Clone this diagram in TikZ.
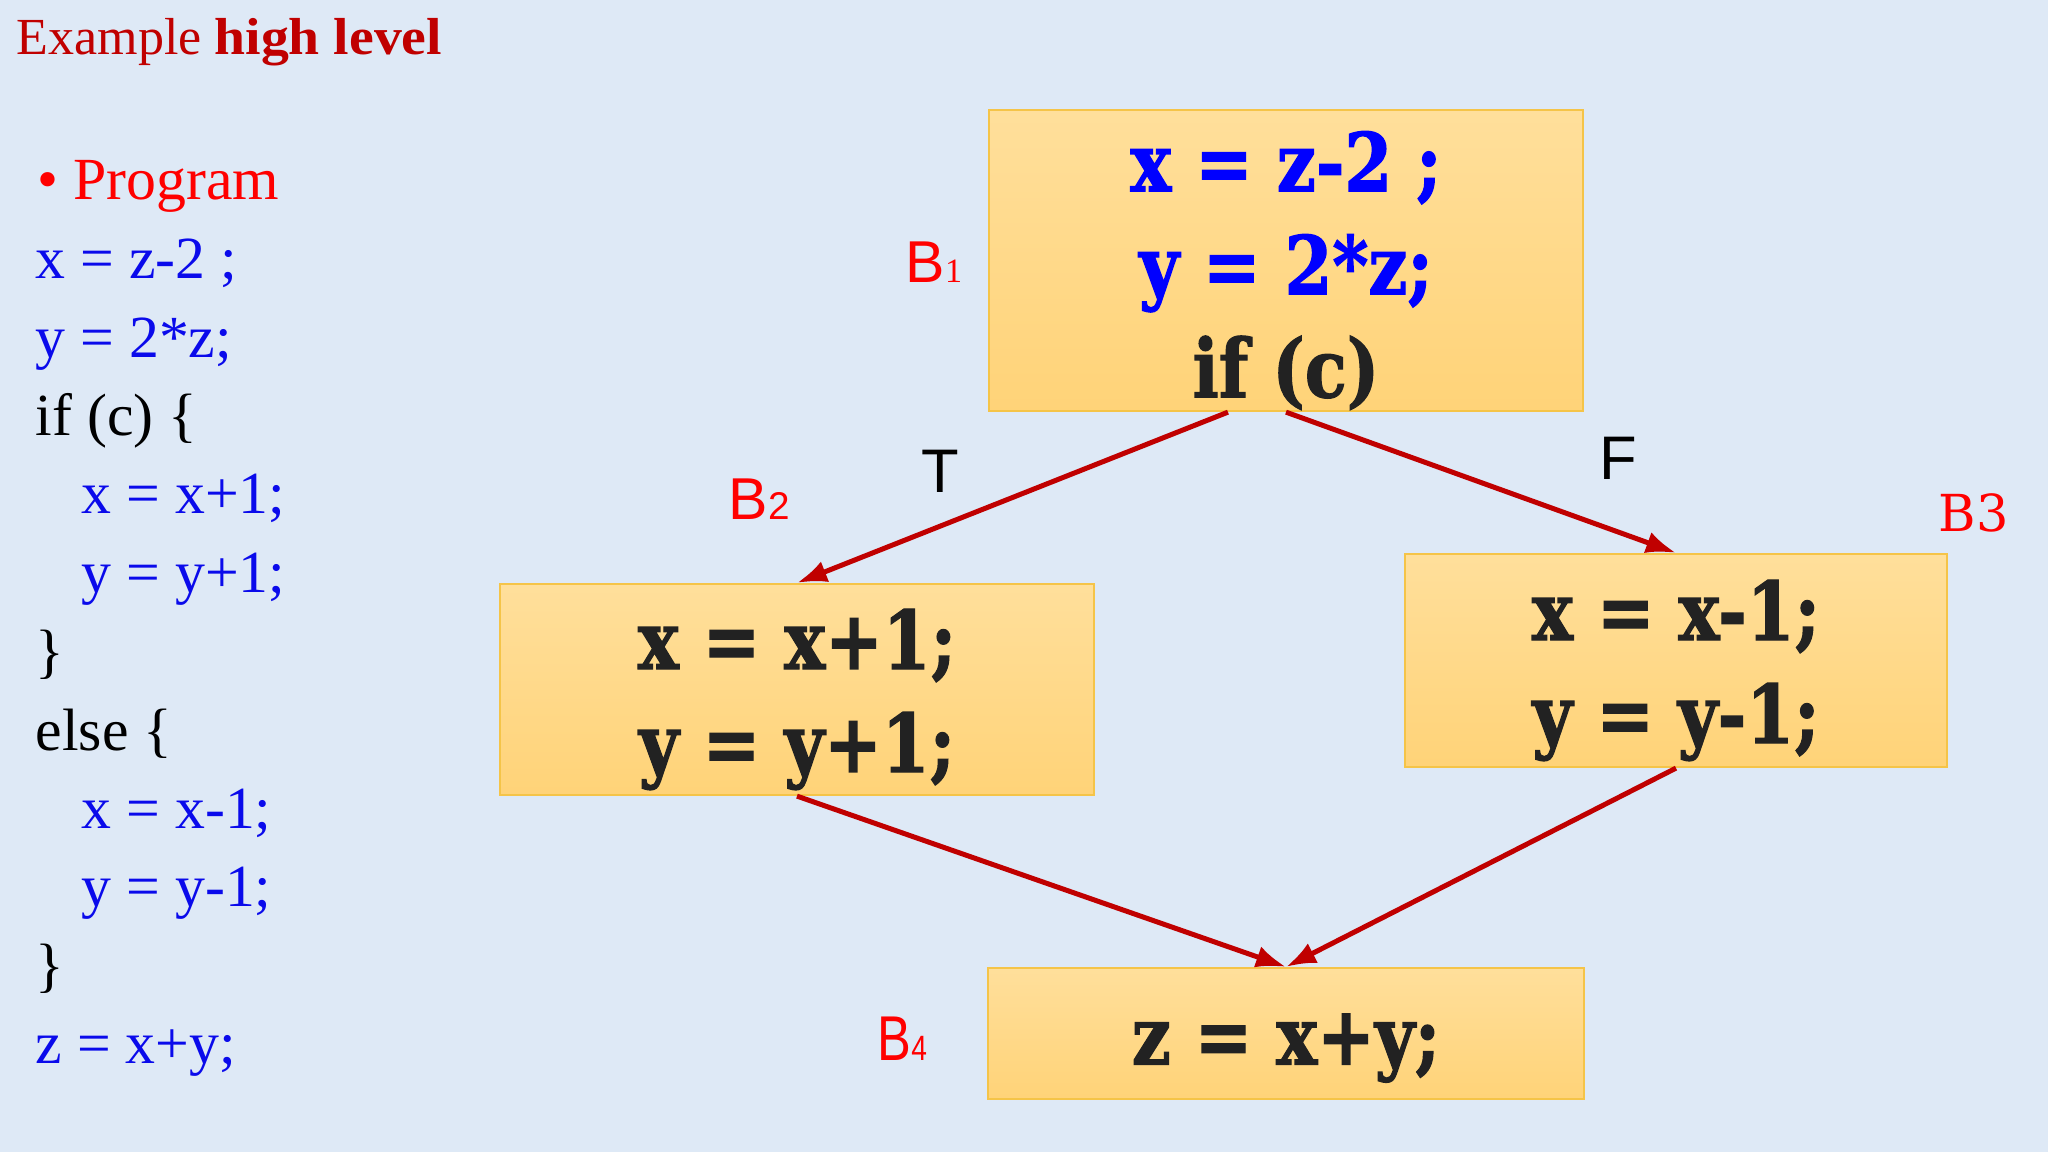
\documentclass[tikz,border=0pt]{standalone}
\usepackage{fontspec}
\setmainfont{Liberation Serif}
\newfontfamily\titlebold[FakeStretch=1.07]{Liberation Serif}
\newfontfamily\labelfont{Liberation Sans}
\newfontfamily\narrowfont[FakeStretch=0.8]{Liberation Sans}
\newfontfamily\slabfont{DejaVu Serif}
\newfontfamily\boxfont[FakeStretch=0.85,FakeBold=1.5]{DejaVu Serif}
\usepackage{tikz}
\usetikzlibrary{arrows.meta,positioning}
\definecolor{slidebg}{RGB}{222,233,246}
\definecolor{boxtop}{RGB}{255,223,155}
\definecolor{boxbottom}{RGB}{255,211,120}
\definecolor{boxline}{RGB}{245,196,72}
\definecolor{flowred}{RGB}{192,0,0}
\definecolor{titlered}{RGB}{192,0,0}
\definecolor{codeblue}{RGB}{10,10,235}
\definecolor{boxblue}{RGB}{0,0,255}
\definecolor{boxblack}{RGB}{34,34,34}
\newcommand{\blocklift}{\rule{0pt}{0.8cm}}
\tikzset{
    block/.style={rectangle, draw=boxline, line width=0.6pt, top color=boxtop, bottom color=boxbottom, align=center, inner sep=0pt, text=boxblack, font=\boxfont\bfseries\fontsize{23}{29.3}\selectfont},
    code line/.style={anchor=base west, inner sep=0pt, text=codeblue, font=\fontsize{17}{20}\selectfont},
    code key/.style={code line, text=black},
    block name/.style={anchor=base west, inner sep=0pt, text=red},
    branch/.style={anchor=base west, inner sep=0pt, font=\labelfont\fontsize{17.5}{20}\selectfont},
    flow/.style={-{Latex[length=0.3cm,width=0.22cm]}, draw=flowred, line width=0.05cm}
}

\begin{document}
\begin{tikzpicture}[x=0.01cm, y=-0.01cm]
    \fill[slidebg] (0,0) rectangle (2048,1152);
    \useasboundingbox (0,0) rectangle (2048,1152);

    \node[anchor=base west, inner sep=0pt, text=titlered, font=\fontsize{14.8}{18}\selectfont] (title) at (16,55) {Example {\titlebold\bfseries high level}};
    \node[anchor=base west, inner sep=0pt, text=red, font=\fontsize{17}{20}\selectfont] (prog) at (37,200) {\textbullet\ Program};

    \node[code line] (c1) at (35,279) {x = z-2 ;};
    \node[code line] (c2) at (35,358) {y = 2*z;};
    \node[code key] (c3) at (35,436) {if (c) \{};
    \node[code line] (c4) at (81,514) {x = x+1;};
    \node[code line] (c5) at (81,593) {y = y+1;};
    \node[code key] (c6) at (35,671) {\}};
    \node[code key] (c7) at (35,750) {else \{};
    \node[code line] (c8) at (81,828) {x = x-1;};
    \node[code line] (c9) at (81,906) {y = y-1;};
    \node[code key] (c10) at (35,985) {\}};
    \node[code line] (c11) at (35,1063) {z = x+y;};

    \node[block, minimum width=5.94cm, minimum height=3.01cm] (b1) at (1286,260.5)
        {\blocklift\textcolor{boxblue}{x = z-2 ;}\\\textcolor{boxblue}{y = 2*z;}\\if (c)};
    \node[block, minimum width=5.94cm, minimum height=2.11cm] (b2) at (797,689.5)
        {\blocklift x = x+1;\\y = y+1;};
    \node[block, minimum width=5.42cm, minimum height=2.13cm] (b3) at (1676,660.5)
        {\blocklift x = x-1;\\y = y-1;};
    \node[block, minimum width=5.95cm, minimum height=1.31cm] (b4) at (1286,1033.5)
        {\blocklift z = x+y;};

    \node[block name, font=\labelfont\fontsize{16.8}{20}\selectfont] (n1) at (905,283) {B{\rmfamily\fontsize{9.7}{11}\selectfont 1}};
    \node[block name, font=\labelfont\fontsize{16.8}{20}\selectfont] (n2) at (728,520) {B{\fontsize{11}{13}\selectfont 2}};
    \node[block name, font=\slabfont\fontsize{14.5}{17}\selectfont] (n3) at (1938,532) {B3};
    \node[block name, font=\narrowfont\fontsize{18}{20}\selectfont] (n4) at (877,1060) {B{\fontsize{10}{11}\selectfont 4}};

    \node[branch] (t) at (921,492) {T};
    \node[branch] (f) at (1599,480) {F};

    \draw[flow] ([xshift=-0.58cm]b1.south) -- (b2.north);
    \draw[flow] (b1.south) -- (b3.north);
    \draw[flow] (b2.south) -- (b4.north);
    \draw[flow] (b3.south) -- (b4.north);
\end{tikzpicture}
\end{document}
